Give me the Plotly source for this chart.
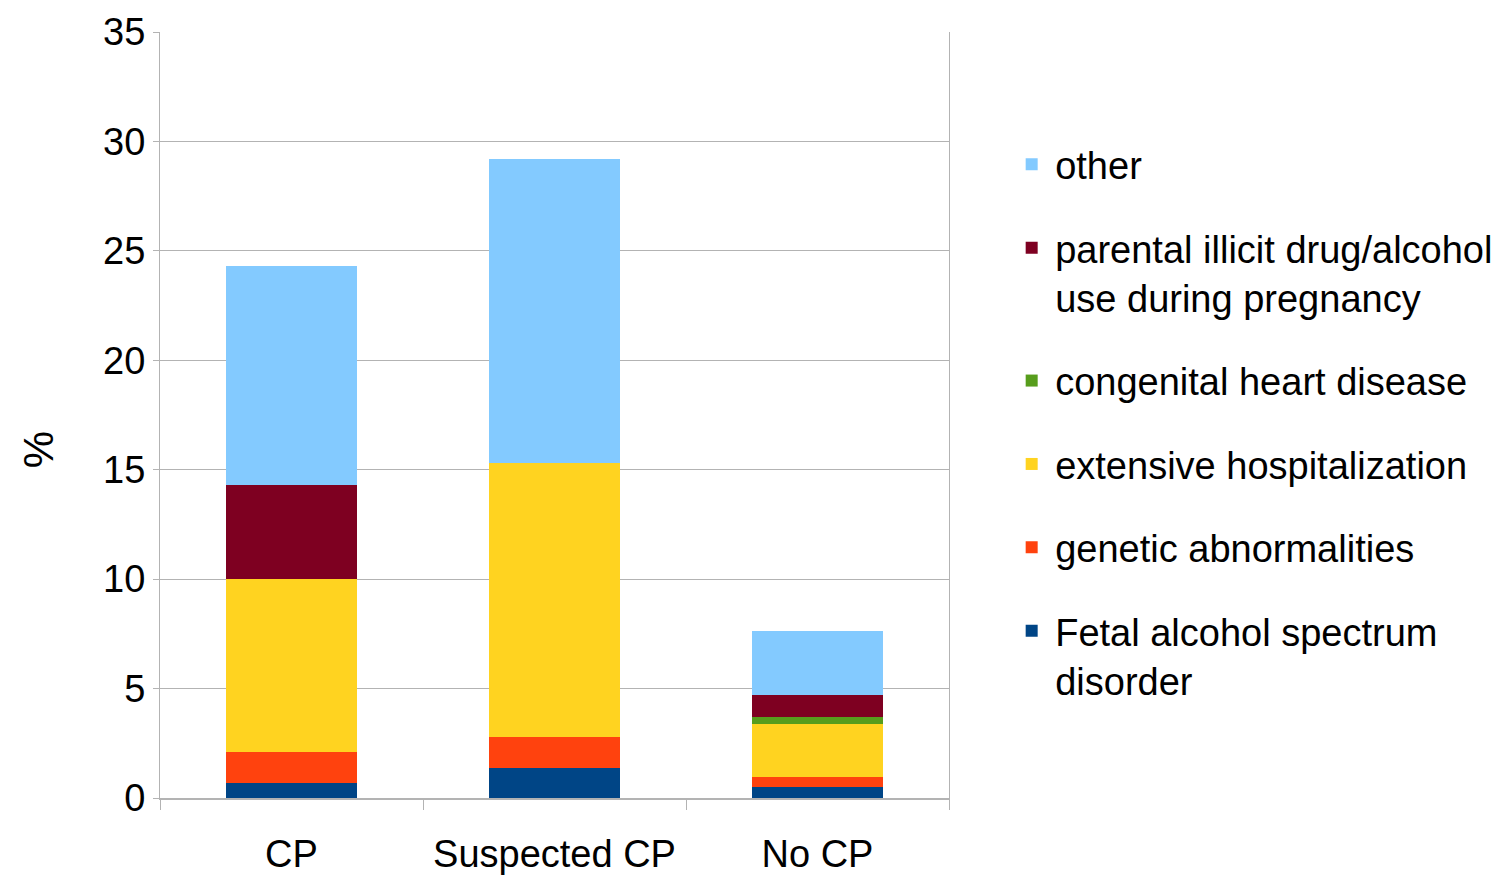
import plotly.graph_objects as go

categories = ["CP", "Suspected CP", "No CP"]
series_names = [
    "Fetal alcohol spectrum<br>disorder",
    "genetic abnormalities",
    "extensive hospitalization",
    "congenital heart disease",
    "parental illicit drug/alcohol<br>use during pregnancy",
    "other",
]
fasd = [0.70, 1.37, 0.50]
genetic = [1.40, 1.42, 0.46]
hospital = [7.90, 12.51, 2.42]
heart = [0.0, 0.0, 0.32]
parental = [4.30, 0.0, 1.00]
other = [10.00, 13.88, 2.93]
colors = ["#004586", "#ff420e", "#ffd320", "#579d1c", "#7e0021", "#83caff"]
y_ticks = [0, 5, 10, 15, 20, 25, 30, 35]

FONT = "Liberation Sans, Arial, sans-serif"
FS = 38

fig = go.Figure()
all_vals = [fasd, genetic, hospital, heart, parental, other]
n = len(series_names)
for i, (name, vals, col) in enumerate(zip(series_names, all_vals, colors)):
    fig.add_trace(go.Bar(x=categories, y=vals, name=name, legendgroup=f"g{n - i}",
                         legendrank=n - i,
                         marker=dict(color=col, line=dict(width=0))))

fig.update_layout(
    barmode="stack",
    bargap=0.5,
    width=1494, height=889,
    margin=dict(l=160, r=545, t=32, b=91, autoexpand=False),
    plot_bgcolor="white", paper_bgcolor="white",
    font=dict(family=FONT, size=FS, color="black"),
    legend=dict(
        traceorder="grouped",
        x=1.075, xanchor="left", y=0.49, yanchor="middle",
        font=dict(family=FONT, size=FS, color="black"),
        tracegroupgap=31,
        itemwidth=37,
        valign="top",
    ),
    xaxis=dict(
        tickson="boundaries", ticks="outside", ticklen=10, tickcolor="#b3b3b3",
        showline=True, linecolor="#b3b3b3", linewidth=1.5,
        showgrid=False, tickangle=0, automargin=False,
        ticklabelstandoff=22,
        tickfont=dict(family=FONT, size=FS),
    ),
    yaxis=dict(
        range=[0, 35], tickvals=y_ticks, ticks="outside", ticklen=6, tickcolor="#b3b3b3",
        showline=True, linecolor="#b3b3b3", linewidth=1, mirror=True,
        showgrid=True, gridcolor="#b3b3b3", gridwidth=1,
        zeroline=False, automargin=False,
        tickfont=dict(family=FONT, size=FS),
    ),
    annotations=[dict(
        text="%", textangle=-90, xref="paper", yref="paper",
        x=-0.1546, y=0.454, xanchor="center", yanchor="middle",
        showarrow=False, font=dict(family=FONT, size=42, color="black"),
    )],
)
fig.write_html("out.html")
